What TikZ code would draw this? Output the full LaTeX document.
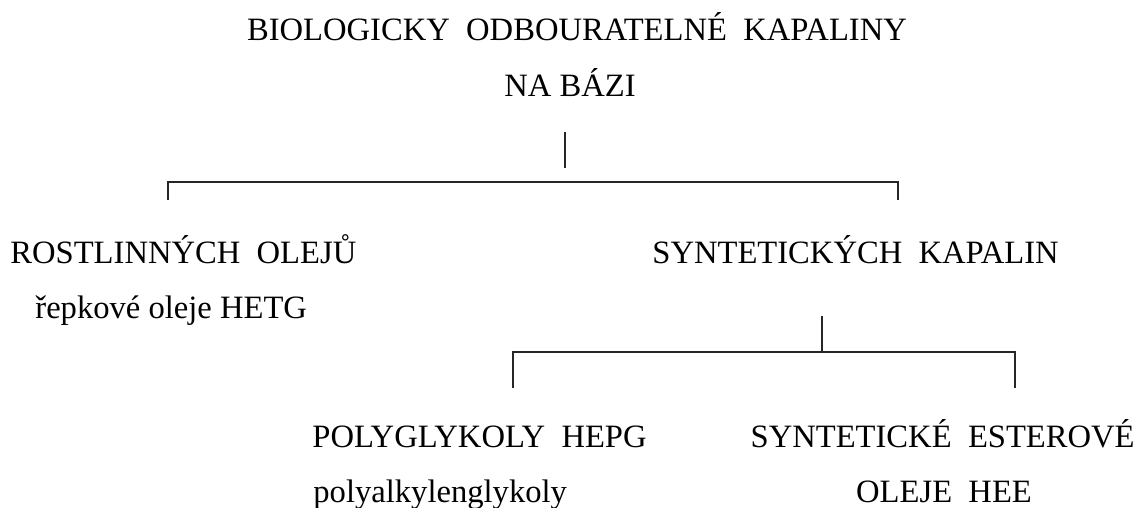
\documentclass[tikz,border=0pt]{standalone}
\usepackage{fontspec}
\setmainfont{Liberation Serif}
\tikzset{
  lbl/.style={inner sep=0pt, font=\fontsize{16.3}{20}\selectfont},
  conn/.style={line width=1.1pt, black!85}
}
\begin{document}
\begin{tikzpicture}[x=0.5pt,y=-0.5pt]
\useasboundingbox (0,0) rectangle (1139,508);
\node[lbl, anchor=base] (t1) at (577,41) {BIOLOGICKY\ \ ODBOURATELNÉ\ \ KAPALINY};
\node[lbl, anchor=base] (t2) at (570,97) {NA BÁZI};
\node[lbl, anchor=base west] (rost) at (10,263) {ROSTLINNÝCH\ \ OLEJŮ};
\node[lbl, anchor=base west] (repk) at (35,318) {řepkové oleje HETG};
\node[lbl, anchor=base west] (synt) at (652,263) {SYNTETICKÝCH\ \ KAPALIN};
\node[lbl, anchor=base west] (poly) at (312,447) {POLYGLYKOLY\ \ HEPG};
\node[lbl, anchor=base west] (palk) at (313,502) {polyalkylenglykoly};
\node[lbl, anchor=base east] (sest) at (1135,447) {SYNTETICKÉ\ \ ESTEROVÉ};
\node[lbl, anchor=base] (hee) at (944,502) {OLEJE\ \ HEE};
% first level
\coordinate (a0) at (565,132);
\coordinate (a1) at (565,168);
\coordinate (al) at (168,200);
\coordinate (ar) at (898,200);
\coordinate (alt) at (168,182);
\coordinate (art) at (898,182);
\draw[conn] (a0) -- (a1);
\draw[conn] (al) -- (alt) -- (art) -- (ar);
% second level
\coordinate (b0) at (822,316);
\coordinate (b1) at (822,352);
\coordinate (bl) at (513,388);
\coordinate (br) at (1015,388);
\coordinate (blt) at (513,352);
\coordinate (brt) at (1015,352);
\draw[conn] (b0) -- (b1);
\draw[conn] (bl) -- (blt) -- (brt) -- (br);
\end{tikzpicture}
\end{document}
